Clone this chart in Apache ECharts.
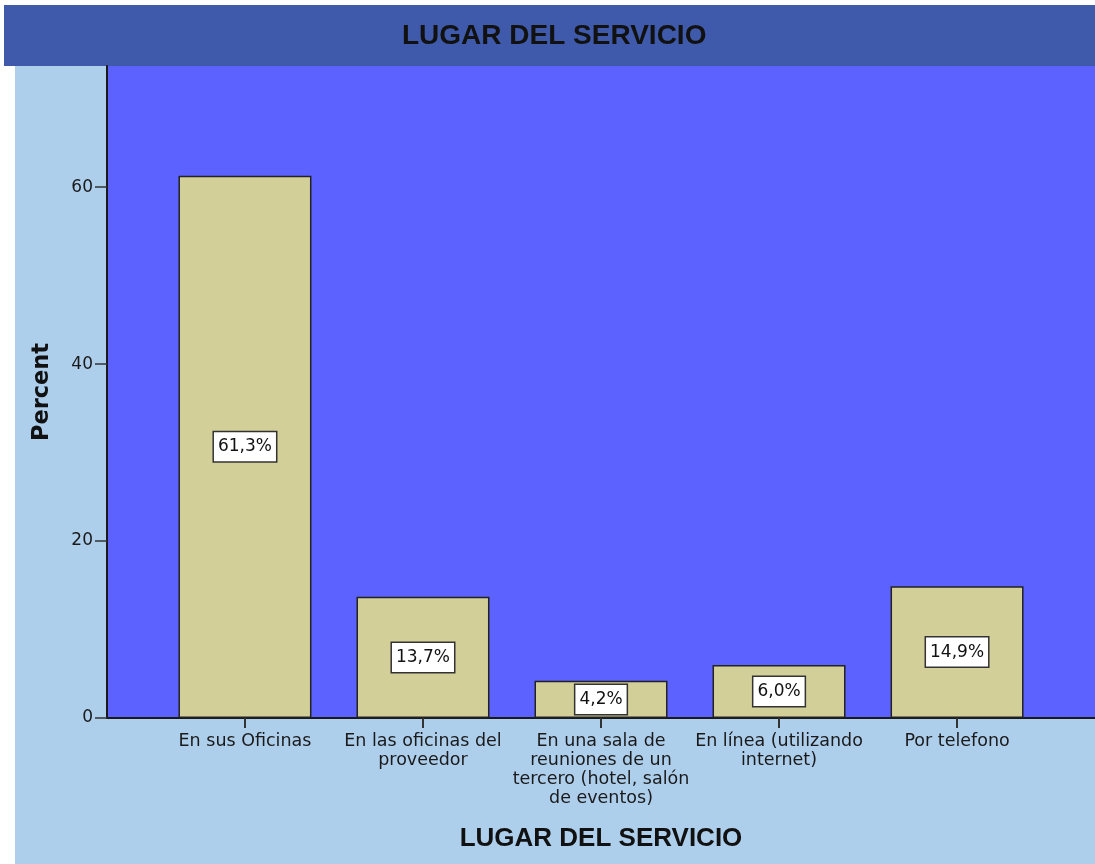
<!DOCTYPE html>
<html>
<head>
<meta charset="utf-8">
<title>LUGAR DEL SERVICIO</title>
<script src="https://cdn.jsdelivr.net/npm/echarts@6/dist/echarts.min.js"></script>
<style>
  html, body { margin: 0; padding: 0; background: #fff; }
  #chart { width: 1095px; height: 864px; }
</style>
</head>
<body>
<div id="chart"></div>
<script>
// categories and percentages
const categories = [
  'En sus Oficinas',
  'En las oficinas del\nproveedor',
  'En una sala de\nreuniones de un\ntercero (hotel, salón\nde eventos)',
  'En línea (utilizando\ninternet)',
  'Por telefono'
];
const percents = [61.3, 13.7, 4.2, 6.0, 14.9];
const yTicks = [0, 20, 40, 60];
const catPositions = categories.map((c, i) => i);

const chart = echarts.init(document.getElementById('chart'));

const labelFont = 'DejaVu Sans, Verdana, sans-serif';
const titleFont = 'Liberation Sans, Arial, sans-serif';

const option = {
  animation: false,
  backgroundColor: '#ffffff',
  title: {
    text: 'LUGAR DEL SERVICIO',
    left: 402,
    top: 22,
    padding: 0,
    textStyle: { fontFamily: titleFont, fontWeight: 'bold', fontSize: 28, color: '#111' }
  },
  graphic: [
    { type: 'rect', z: -10, shape: { x: 4, y: 5, width: 1091, height: 61 }, style: { fill: '#3f5aab' } },
    { type: 'rect', z: -10, shape: { x: 15, y: 66, width: 1080, height: 798 }, style: { fill: '#aecfec' } }
  ],
  grid: {
    left: 107, right: 0, top: 66, bottom: 146,
    show: true, backgroundColor: '#5c62ff', borderWidth: 0
  },
  xAxis: {
    type: 'value',
    min: -0.775,
    max: 4.775,
    splitLine: { show: false },
    axisLine: { show: true, onZero: false, lineStyle: { color: '#1a1a1a', width: 2 } },
    axisTick: { show: true, customValues: catPositions, length: 10, lineStyle: { color: '#333', width: 2 } },
    axisLabel: {
      customValues: catPositions,
      formatter: v => categories[Math.round(v)],
      fontFamily: labelFont, fontSize: 17.5, lineHeight: 19, color: '#1a1a1a', margin: 14
    },
    name: 'LUGAR DEL SERVICIO',
    nameLocation: 'middle',
    nameGap: 108,
    nameTextStyle: { fontFamily: titleFont, fontWeight: 'bold', fontSize: 26, color: '#111' }
  },
  yAxis: {
    type: 'value',
    min: 0,
    max: 73.7,
    splitLine: { show: false },
    axisLine: { show: true, onZero: false, lineStyle: { color: '#1a1a1a', width: 2 } },
    axisTick: { show: true, customValues: yTicks, length: 12, lineStyle: { color: '#333', width: 1.5 } },
    axisLabel: { customValues: yTicks, fontFamily: labelFont, fontSize: 17, color: '#1a1a1a', margin: 14 },
    name: 'Percent',
    nameLocation: 'middle',
    nameGap: 53,
    nameRotate: 90,
    nameTextStyle: { fontFamily: labelFont, fontWeight: 'bold', fontSize: 22.5, color: '#111' }
  },
  series: [{
    type: 'bar',
    barWidth: 133,
    data: percents.map((p, i) => [i, p]),
    itemStyle: { color: '#d3cf99', borderColor: '#222', borderWidth: 1.5 },
    label: {
      show: true,
      position: 'inside',
      formatter: p => p.value[1].toFixed(1).replace('.', ',') + '%',
      fontFamily: labelFont,
      fontSize: 17,
      color: '#111',
      backgroundColor: '#ffffff',
      borderColor: '#333',
      borderWidth: 1.5,
      padding: [7, 4, 5, 4]
    }
  }]
};

chart.setOption(option);
</script>
</body>
</html>
